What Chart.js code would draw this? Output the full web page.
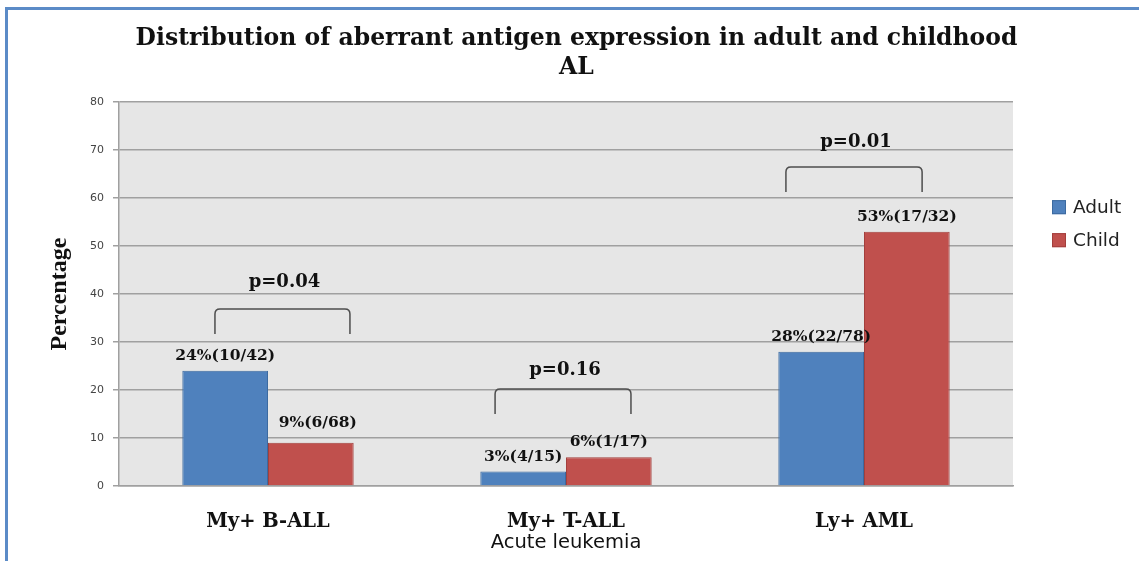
<!DOCTYPE html>
<html>
<head>
<meta charset="utf-8">
<script src="https://cdn.jsdelivr.net/npm/chart.js@4.4.1/dist/chart.umd.min.js"></script>
<style>
  body { margin: 0; background: #fff; }
  .frame { position: relative; width: 1139px; height: 561px; }
  .frame::after { content: ''; position: absolute; left: 5px; top: 7px; right: 0; bottom: 0;
    border-top: 3px solid #5b8bc7; border-left: 3px solid #5b8bc7; pointer-events: none; }
  canvas { position: absolute; left: 0; top: 0; }
</style>
</head>
<body>
<div class="frame"><canvas id="myChart" width="1139" height="561"></canvas></div>
<script>
const categories = ['My+ B-ALL', 'My+ T-ALL', 'Ly+ AML'];
const adultValues = [24, 3, 28];
const childValues = [9, 6, 53];
const adultLabels = ['24%(10/42)', '3%(4/15)', '28%(22/78)'];
const childLabels = ['9%(6/68)', '6%(1/17)', '53%(17/32)'];
const pLabels = ['p=0.04', 'p=0.16', 'p=0.01'];
const yTicks = [0, 10, 20, 30, 40, 50, 60, 70, 80];

// grey plot background
const plotBg = {
  id: 'plotBg',
  beforeDraw(chart) {
    const {ctx, chartArea: a} = chart;
    ctx.save();
    ctx.fillStyle = '#e6e6e6';
    ctx.fillRect(a.left, a.top, a.right - a.left, a.bottom - a.top);
    ctx.restore();
  }
};

// text above the bars
const barText = {
  id: 'barText',
  afterDatasetsDraw(chart, args, opts) {
    const {ctx} = chart;
    ctx.save();
    ctx.font = 'bold 15.5px "DejaVu Serif"';
    ctx.fillStyle = '#111';
    ctx.textAlign = 'center';
    ctx.textBaseline = 'middle';
    chart.data.datasets.forEach((ds, di) => {
      chart.getDatasetMeta(di).data.forEach((bar, i) => {
        const n = (opts.nudge[di + '-' + i]) || [0, 0];
        ctx.fillText(ds.texts[i], bar.x + n[0], bar.y - 15 - n[1]);
      });
    });
    ctx.restore();
  }
};

// significance brackets
const brackets = {
  id: 'brackets',
  afterDatasetsDraw(chart, args, opts) {
    const {ctx, scales: {x, y}} = chart;
    ctx.save();
    ctx.strokeStyle = '#4d4d4d';
    ctx.lineWidth = 1.5;
    ctx.font = 'bold 18px "DejaVu Serif"';
    ctx.fillStyle = '#111';
    ctx.textAlign = 'center';
    ctx.textBaseline = 'middle';
    pLabels.forEach((txt, i) => {
      const s = opts.spans[i];
      const x1 = x.getPixelForValue(i + s[0]);
      const x2 = x.getPixelForValue(i + s[1]);
      const top = y.getPixelForValue(s[2]);
      const bot = y.getPixelForValue(s[2] - opts.leg);
      const r = 5;
      ctx.beginPath();
      ctx.moveTo(x1, bot);
      ctx.lineTo(x1, top + r);
      ctx.quadraticCurveTo(x1, top, x1 + r, top);
      ctx.lineTo(x2 - r, top);
      ctx.quadraticCurveTo(x2, top, x2, top + r);
      ctx.lineTo(x2, bot);
      ctx.stroke();
      ctx.fillText(txt, (x1 + x2) / 2 + 2, top - s[3]);
    });
    ctx.restore();
  }
};

// legend on the right
const sideLegend = {
  id: 'sideLegend',
  afterDraw(chart) {
    const {ctx, chartArea: a} = chart;
    ctx.save();
    ctx.font = '18.5px "DejaVu Sans"';
    ctx.textBaseline = 'middle';
    chart.data.datasets.forEach((ds, i) => {
      const yy = a.top + 105 + i * 33;
      const xx = a.right + 39;
      ctx.fillStyle = ds.backgroundColor;
      ctx.fillRect(xx, yy - 7, 14, 14);
      ctx.strokeStyle = ds.borderColor;
      ctx.lineWidth = 1;
      ctx.strokeRect(xx + 0.5, yy - 6.5, 13, 13);
      ctx.fillStyle = '#222';
      ctx.fillText(ds.label, xx + 21, yy + 1);
    });
    ctx.restore();
  }
};

const ctx1 = document.getElementById('myChart');

new Chart(ctx1, {
  type: 'bar',
  data: {
    labels: categories,
    datasets: [{
      label: 'Adult',
      data: adultValues,
      texts: adultLabels,
      backgroundColor: '#4f81bd',
      borderColor: '#3c6aa0',
      borderWidth: 1,
    }, {
      label: 'Child',
      data: childValues,
      texts: childLabels,
      backgroundColor: '#c0504d',
      borderColor: '#a33f3c',
      borderWidth: 1,
    }]
  },
  options: {
    responsive: false,
    animation: false,
    categoryPercentage: 0.575,
    barPercentage: 1,
    layout: { padding: { left: 14, right: 0, top: 0, bottom: 0 } },
    plugins: {
      legend: { display: false },
      tooltip: { enabled: false },
      title: {
        display: true,
        text: ['Distribution of aberrant antigen expression in adult and childhood', 'AL'],
        color: '#111',
        font: { family: '"DejaVu Serif"', size: 23.5, weight: 'bold', lineHeight: 1.24 },
        padding: { top: 24.5, bottom: 19.4 },
      },
      barText: { nudge: { '1-0': [7, 5] } },
      brackets: {
        leg: 5.2,
        spans: [
          [-0.178, 0.275, 36.9, 27],
          [-0.238, 0.218, 20.2, 19],
          [-0.262, 0.195, 66.5, 25],
        ],
      },
    },
    scales: {
      x: {
        grid: { display: false, drawTicks: false },
        border: { display: true, color: '#a0a0a0', width: 1.5 },
        ticks: {
          color: '#111',
          padding: 24,
          font: { family: '"DejaVu Serif"', size: 19.5, weight: 'bold' },
        },
        title: {
          display: true,
          text: 'Acute leukemia',
          color: '#111',
          font: { family: '"DejaVu Sans"', size: 19.5 },
          padding: { top: 0, bottom: 6.3 },
        },
        afterFit: s => { s.height = 75; },
      },
      y: {
        min: 0,
        max: 80,
        afterBuildTicks: s => { s.ticks = yTicks.map(v => ({ value: v })); },
        grid: { color: '#a0a0a0', lineWidth: 1.5, tickLength: 6 },
        border: { display: true, color: '#a0a0a0', width: 1.5 },
        ticks: {
          color: '#444',
          padding: 9,
          font: { family: '"DejaVu Sans"', size: 11 },
        },
        title: {
          display: true,
          text: 'Percentage',
          color: '#111',
          font: { family: '"Liberation Serif"', size: 24, weight: 'bold' },
          padding: { top: 31.6, bottom: 0 },
        },
        afterFit: s => { s.width = 105; },
      },
      y2: {
        position: 'right',
        display: true,
        grid: { display: false },
        border: { display: false },
        ticks: { display: false },
        afterFit: s => { s.width = 126; },
      },
    },
  },
  plugins: [plotBg, barText, brackets, sideLegend],
});
</script>
</body>
</html>
